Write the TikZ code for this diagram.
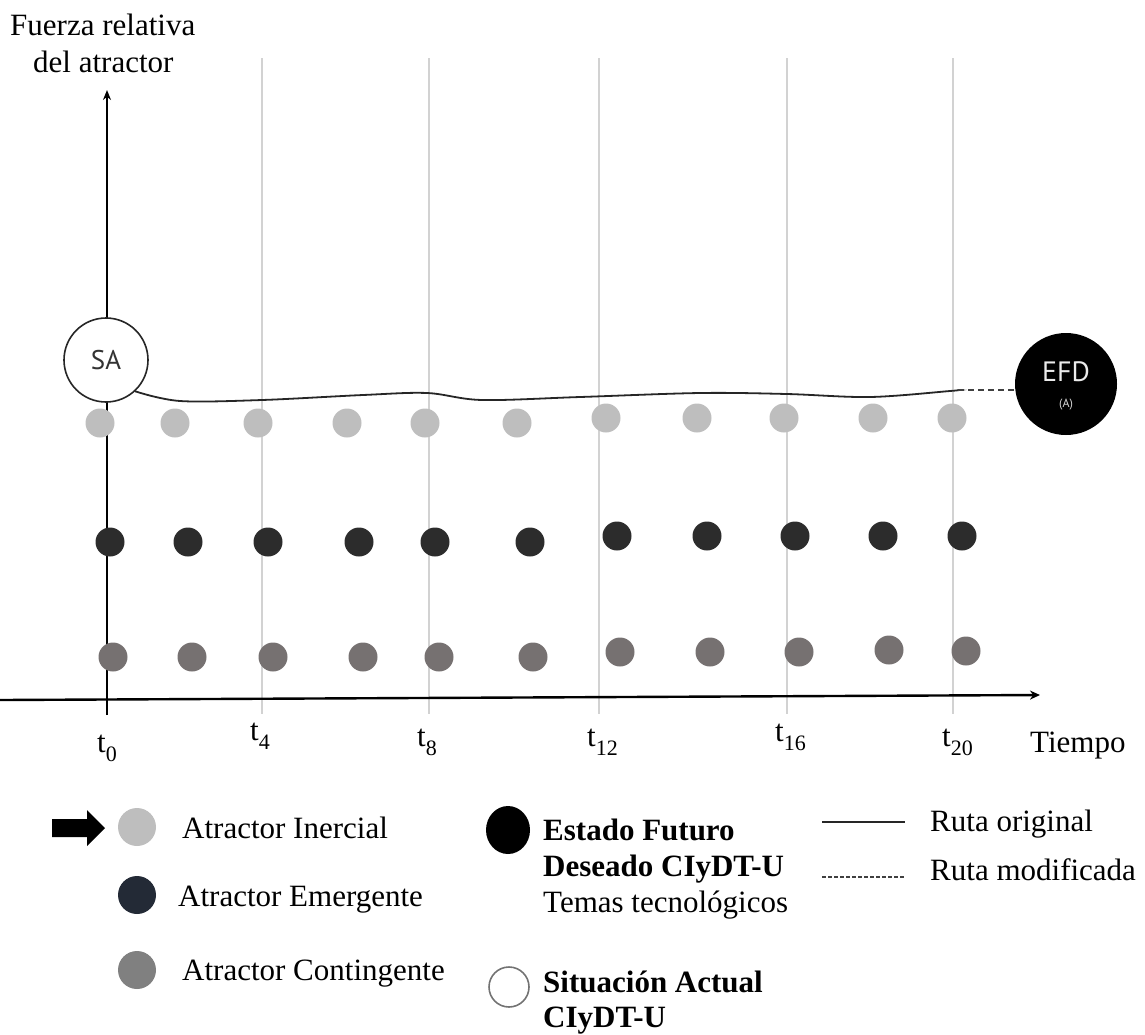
\documentclass[tikz,border=0pt]{standalone}
\usepackage{fontspec}
\setmainfont{Liberation Serif}
\newfontfamily\labsans{PT Sans}
\usetikzlibrary{arrows.meta,shapes.geometric}
\definecolor{cLight}{HTML}{BEBEBE}
\definecolor{cDark}{HTML}{2C2C2C}
\definecolor{cCont}{HTML}{767171}
\definecolor{cLegDark}{HTML}{232A36}
\definecolor{cLegCont}{HTML}{808080}
\definecolor{cGrid}{HTML}{D2D2D2}
\newcommand{\tlab}[1]{t\raisebox{-0.32em}{\fontsize{22}{22}\selectfont #1}}
\tikzset{
  txt/.style={font=\fontsize{31}{36}\selectfont, inner sep=0pt, anchor=base west},
  btxt/.style={txt, font=\fontsize{31}{36}\selectfont\bfseries},
  dotbase/.style={circle, inner sep=0pt, minimum size=29pt, draw=none},
  lightdot/.style={dotbase, fill=cLight},
  darkdot/.style={dotbase, fill=cDark},
  contdot/.style={dotbase, fill=cCont},
  legdot/.style={circle, inner sep=0pt, minimum size=38pt, draw=none},
  grid line/.style={draw=cGrid, line width=1.4pt},
  axisline/.style={draw=black, line width=1.6pt},
  route/.style={draw=black!85, line width=1.8pt, line cap=round},
  routemod/.style={draw=black!75, line width=1.4pt, dash pattern=on 6pt off 4pt}
}
\begin{document}
\begin{tikzpicture}[x=1pt, y=-1pt]
\useasboundingbox (0,0) rectangle (1145,1034);
% grid lines
\foreach \gx/\gn in {262/g4, 429/g8, 599/g12, 787/g16, 953/g20}{
  \coordinate (\gn top) at (\gx,58);
  \coordinate (\gn bot) at (\gx,714);
  \draw[grid line] (\gn top) -- (\gn bot);
}
% axes
\coordinate (yb) at (107,715);
\coordinate (yt) at (107,90);
\coordinate (xl) at (0,700);
\coordinate (xr) at (1040,695);
\draw[axisline, -{Stealth[length=10pt, width=8pt]}] (yb) -- (yt);
\draw[axisline, line width=2.4pt, -{Stealth[length=10pt, width=9pt]}] (xl) -- (xr);
% axis titles
\node[txt] (ytitle1) at (10,35) {Fuerza relativa};
\node[txt] (ytitle2) at (33,72) {del atractor};
\node[txt] (xtitle) at (1030,752) {Tiempo};
% time labels
\node[txt] (t0) at (97,752) {\tlab{0}};
\node[txt] (t4) at (250,740) {\tlab{4}};
\node[txt] (t8) at (417,746) {\tlab{8}};
\node[txt] (t12) at (587,746) {\tlab{12}};
\node[txt] (t16) at (775,741) {\tlab{16}};
\node[txt] (t20) at (942,746) {\tlab{20}};
% inertial row
\foreach \px/\py [count=\i] in {100/423, 175/423, 258/423, 347/423, 425/423, 517/423, 606/418, 697/418, 784/418, 873/418, 952/418}{
  \node[lightdot] (li\i) at (\px,\py) {};
}
% emergent row
\foreach \px/\py [count=\i] in {110/542, 188/542, 268/542, 359/542, 435/542, 530/542, 617/536, 707/536, 795/536, 883/536, 962/536}{
  \node[darkdot] (em\i) at (\px,\py) {};
}
% contingent row
\foreach \px/\py [count=\i] in {113/657, 192/657, 273/657, 363/657, 439/657, 533/657, 620/652, 710/652, 799/652, 889/650, 966/651}{
  \node[contdot] (co\i) at (\px,\py) {};
}
% SA and EFD
\node[circle, draw=black!85, line width=1.6pt, fill=white, minimum size=84pt, inner sep=0pt,
      font=\labsans\fontsize{27}{27}\selectfont, text=black!80] (sa) at (106,360) {SA};
\node[circle, fill=black, minimum size=102pt, inner sep=0pt] (efd) at (1066,384) {};
\node[text=white!92!black, font=\labsans\fontsize{28}{28}\selectfont, inner sep=0pt] (efdlab) at (1066,372) {EFD};
\node[text=white!85!black, font=\labsans\fontsize{12}{12}\selectfont, inner sep=0pt] (efdsub) at (1066,405) {(A)};
% routes
\coordinate (rend) at (958,390);
\draw[route] plot[smooth, tension=0.55] coordinates {(sa.-47) (180,401) (262,400) (363,395) (427,393) (482,400) (580,397) (700,393) (787,394) (870,397) (950,391) (rend)};
\draw[routemod] (rend) -- (efd.west |- rend);
% legend left
\fill[black] (52,819) -- (87,819) -- (87,810) -- (105,828) -- (87,846) -- (87,837) -- (52,837) -- cycle;
\node[legdot, fill=cLight] (lgli) at (137,827) {};
\node[legdot, fill=cLegDark] (lgem) at (137,895) {};
\node[legdot, fill=cLegCont] (lgco) at (137,970) {};
\node[txt] (lgliT) at (182,838) {Atractor Inercial};
\node[txt] (lgemT) at (178,906) {Atractor Emergente};
\node[txt] (lgcoT) at (182,980) {Atractor Contingente};
% legend middle
\node[ellipse, fill=black, minimum width=44pt, minimum height=48pt, inner sep=0pt] (lgefd) at (508,830) {};
\node[btxt] (lgefdT1) at (543,840) {Estado Futuro};
\node[btxt] (lgefdT2) at (543,876) {Deseado CIyDT-U};
\node[txt] (lgefdT3) at (543,912) {Temas tecnológicos};
\node[circle, draw=black!55, line width=1.6pt, minimum size=40pt, inner sep=0pt] (lgsa) at (509,987) {};
\node[btxt] (lgsaT1) at (543,992) {Situación Actual};
\node[btxt] (lgsaT2) at (543,1027) {CIyDT-U};
% legend right
\coordinate (lr1a) at (822,822);
\coordinate (lr1b) at (905,822);
\coordinate (lr2a) at (822,877);
\coordinate (lr2b) at (905,877);
\draw[route, line cap=butt] (lr1a) -- (lr1b);
\draw[routemod, dash pattern=on 4pt off 2pt] (lr2a) -- (lr2b);
\node[txt] (lrT1) at (930,831) {Ruta original};
\node[txt] (lrT2) at (930,880) {Ruta modificada};
\end{tikzpicture}
\end{document}
